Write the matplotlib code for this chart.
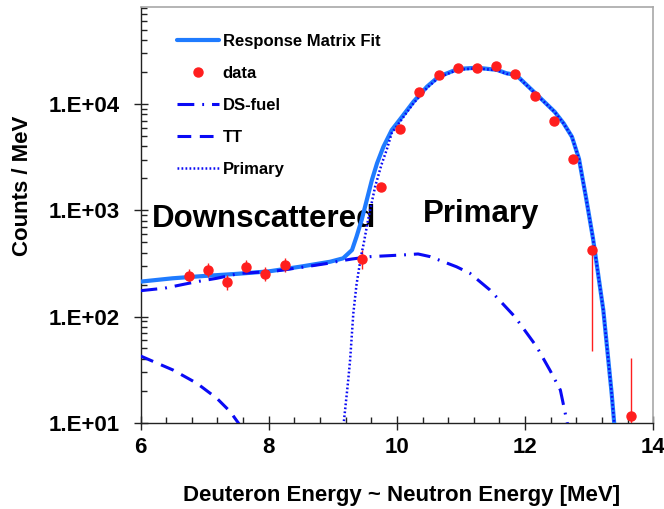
import numpy as np
import matplotlib
matplotlib.use("Agg")
import matplotlib.pyplot as plt
from matplotlib.ticker import MultipleLocator, FuncFormatter, LogLocator

plt.rcParams["font.family"] = ["Liberation Sans", "DejaVu Sans"]
plt.rcParams["font.weight"] = "bold"

# Measured spectrum (counts / MeV) with asymmetric uncertainties
data_E = [6.75, 7.05, 7.35, 7.65, 7.95, 8.25, 9.45, 9.75, 10.05, 10.35,
          10.65, 10.95, 11.25, 11.55, 11.85, 12.15, 12.45, 12.75, 13.05, 13.65]
data_counts = [240, 272, 210, 290, 250, 305, 345, 1640, 5850, 13100,
               18800, 21800, 21900, 22600, 19200, 11900, 6900, 3050, 420, 11.5]
data_err_lo = [33, 38, 32, 40, 35, 42, 62, 80, 200, 300,
               400, 450, 450, 450, 400, 300, 200, 120, 373, 11]
data_err_hi = [40, 45, 38, 48, 42, 50, 75, 80, 200, 300,
               400, 450, 450, 450, 400, 300, 200, 120, 40, 29]

# Response matrix fit (total)
fit_E = [6.0, 6.5, 7.0, 7.5, 8.0, 8.5, 8.96, 9.16, 9.30, 9.37, 9.45, 9.53,
         9.61, 9.69, 9.79, 9.92, 10.08, 10.26, 10.47, 10.65, 10.95, 11.25,
         11.56, 11.71, 11.86, 12.16, 12.46, 12.60, 12.73, 12.84, 12.95, 13.06,
         13.22, 13.35, 13.39, 13.42]
fit_counts = [213, 229, 241, 252, 266, 295, 328, 353, 423, 564, 811, 1250,
              1930, 2770, 3970, 5700, 7600, 10550, 14600, 18100, 21400, 22000,
              21000, 19500, 18800, 12650, 8470, 6600, 4930, 3060, 1320, 540,
              115, 18.9, 9.9, 7.0]

# Down-scattered fuel component
ds_E = [6.0, 6.38, 6.88, 7.19, 7.55, 8.07, 8.59, 8.9, 9.11, 9.3, 9.58,
        10.10, 10.33, 10.52, 10.93, 11.14, 11.45, 11.84, 12.18, 12.39,
        12.55, 12.66, 12.7]
ds_counts = [175, 185, 213, 229, 255, 266, 295, 315, 333, 348, 366,
             380, 388, 366, 294, 255, 178, 99.5, 52, 31,
             20.3, 9.8, 8.0]

# TT component
tt_E = [6.0, 6.51, 6.88, 7.19, 7.40, 7.55, 7.6]
tt_counts = [42.5, 31.3, 23.5, 17.0, 12.7, 9.5, 8.5]

# Primary (unscattered) component
prim_E = [9.15, 9.17, 9.24, 9.27, 9.32, 9.37, 9.44, 9.48, 9.55, 9.66, 9.76,
          9.84, 9.92, 10.08, 10.26, 10.47, 10.65, 10.95, 11.25, 11.56, 11.71,
          11.86, 12.16, 12.46, 12.60, 12.73, 12.84, 12.95, 13.06, 13.22, 13.35,
          13.39, 13.42]
prim_counts = [8.0, 9.9, 25, 39, 107, 200, 370, 480, 811, 1667, 2700,
               3700, 5350, 7250, 10200, 14200, 17750, 21100, 21700, 20800, 19300,
               18700, 12550, 8440, 6580, 4920, 3050, 1315, 538, 115, 18.9,
               9.9, 7.0]

x_ticks = [6, 8, 10, 12, 14]

fit_color = "#1F7BFF"
comp_color = "#0A0AF5"
data_color = "#FF1E1E"

fig = plt.figure(figsize=(6.64, 5.09), dpi=100)
ax = fig.add_axes([0.2116, 0.1695, 0.7723, 0.8167])

ax.plot(fit_E, fit_counts, color=fit_color, lw=3.0, solid_capstyle="round",
        solid_joinstyle="round", label="Response Matrix Fit", zorder=3)
ax.errorbar(data_E, data_counts, yerr=[data_err_lo, data_err_hi], fmt="none",
            ecolor=data_color, elinewidth=1.0, capsize=0, zorder=4)
ax.plot(data_E, data_counts, ls="none", marker="o", ms=6.5, color=data_color,
        mec=data_color, label="data", zorder=5)
ax.plot(ds_E, ds_counts, color=comp_color, lw=2.2, dashes=(5.5, 2.6, 0.6, 2.6),
        label="DS-fuel", zorder=4)
ax.plot(tt_E, tt_counts, color=comp_color, lw=2.2, dashes=(4.5, 2.8),
        label="TT", zorder=4)
ax.plot(prim_E, prim_counts, color=comp_color, lw=1.8, dashes=(0.7, 0.9),
        label="Primary", zorder=4)

ax.set_yscale("log")
ax.set_xlim(6, 14)
ax.set_ylim(10, 82000)

ax.set_xticks(x_ticks)
ax.set_xticklabels([str(t) for t in x_ticks])
ax.xaxis.set_minor_locator(MultipleLocator(0.4))
ax.yaxis.set_major_locator(LogLocator(base=10))
ax.yaxis.set_minor_locator(LogLocator(base=10, subs=np.arange(2, 10)))
ax.yaxis.set_major_formatter(
    FuncFormatter(lambda v, p: "1.E+%02d" % int(round(np.log10(v)))))
ax.yaxis.set_minor_formatter(FuncFormatter(lambda v, p: ""))

ax.tick_params(which="major", direction="inout", length=10, width=1.0,
               labelsize=16, color="#222222")
ax.tick_params(which="minor", direction="in", length=4, width=1.0,
               color="#222222")
ax.tick_params(axis="x", which="major", pad=5.3)
ax.tick_params(axis="y", which="major", pad=9.8)
for lab in ax.get_xticklabels() + ax.get_yticklabels():
    lab.set_fontweight("bold")

for side in ("top", "right"):
    ax.spines[side].set_color("#A8A8A8")
    ax.spines[side].set_linewidth(1.2)
for side in ("left", "bottom"):
    ax.spines[side].set_color("#222222")
    ax.spines[side].set_linewidth(1.0)

leg = ax.legend(loc="upper left", bbox_to_anchor=(0.0712, 0.935),
                frameon=False, borderpad=0, borderaxespad=0,
                handlelength=2.5, handletextpad=0.25, labelspacing=1.02,
                numpoints=1, prop={"size": 12, "weight": "bold"})

ax.text(6.175, 702, "Downscattered", fontsize=22.5, fontweight="bold",
        ha="left", va="baseline", zorder=2)
ax.text(10.41, 782, "Primary", fontsize=22.5, fontweight="bold",
        ha="left", va="baseline", zorder=2)

fig.text(23 / 664, 1 - 186 / 509, "Counts / MeV", rotation=90, fontsize=16,
         fontweight="bold", ha="center", va="center")
fig.text(402 / 664, 1 - 495 / 509, "Deuteron Energy ~ Neutron Energy [MeV]",
         fontsize=16, fontweight="bold", ha="center", va="center")

fig.savefig("out.png", dpi=100)
